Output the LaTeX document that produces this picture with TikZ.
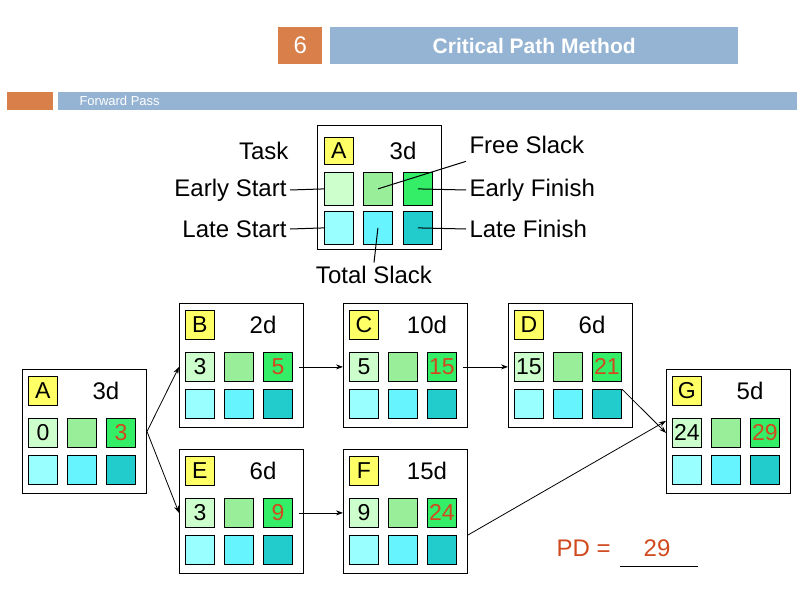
\documentclass[tikz,border=0pt]{standalone}
\usepackage{fontspec}
\setmainfont{Liberation Sans}
\usetikzlibrary{arrows.meta}
\definecolor{c1}{HTML}{CCFFCC}\definecolor{c2}{HTML}{99EE99}\definecolor{c3}{HTML}{33EE66}
\definecolor{d1}{HTML}{99FFFF}\definecolor{d2}{HTML}{66F5FF}\definecolor{d3}{HTML}{22CCCC}
\definecolor{lab}{HTML}{FFFF66}\definecolor{org}{HTML}{D9804A}\definecolor{blu}{HTML}{95B4D3}
\definecolor{red}{HTML}{D04A1E}
\tikzset{
 outer/.style={draw,line width=1pt,fill=white,minimum width=124pt,minimum height=124pt,anchor=north west,inner sep=0},
 cell/.style={draw,line width=0.8pt,minimum width=29pt,minimum height=29pt,anchor=north west,inner sep=0,font=\fontsize{23}{26}\selectfont},
 txt/.style={font=\fontsize{24}{28}\selectfont},
 arr/.style={-{Stealth[length=7pt,width=5pt]},line width=0.8pt},
 ln/.style={line width=1pt}
}
\newcommand\tbox[7]{% name, x, y, letter, dur, es, ef
 \node[outer] (#1) at (#2,#3) {};
 \node[cell,fill=lab] (#1-l) at (#2+6,#3+7) {#4};
 \node[txt] (#1-d) at (#2+84,#3+22) {#5};
 \node[cell,fill=c1] (#1-es) at (#2+6,#3+49) {#6};
 \node[cell,fill=c2] (#1-fs) at (#2+45,#3+49) {};
 \node[cell,fill=c3,text=red] (#1-ef) at (#2+84,#3+49) {#7};
 \node[cell,fill=d1] (#1-ls) at (#2+6,#3+86) {};
 \node[cell,fill=d2] (#1-ts) at (#2+45,#3+86) {};
 \node[cell,fill=d3] (#1-lf) at (#2+84,#3+86) {};
}
\begin{document}
\begin{tikzpicture}[x=1pt,y=-1pt]
\useasboundingbox (0,0) rectangle (805,604);
\fill[white] (0,0) rectangle (805,604);
% header
\node[fill=org,minimum width=44pt,minimum height=37pt,anchor=north west,inner sep=0,text=white,font=\fontsize{24}{28}\selectfont] (num) at (278,27) {6};
\node[fill=blu,minimum width=408pt,minimum height=37pt,anchor=north west,inner sep=0,text=white,font=\bfseries\fontsize{21}{24}\selectfont] (title) at (330,27) {Critical Path Method};
\node[fill=org,minimum width=46pt,minimum height=18pt,anchor=north west,inner sep=0] (bar1) at (7,92) {};
\node[fill=blu,minimum width=739pt,minimum height=18pt,anchor=north west,inner sep=0] (bar2) at (58,92) {};
\node[anchor=west,text=white,font=\fontsize{13}{15}\selectfont] (sub) at (76,101) {Forward Pass};
% legend
\node[outer] (L) at (317,125) {};
\node[cell,fill=lab,minimum height=27pt] (L-l) at (324,137) {A};
\node[txt] (L-d) at (403,151) {3d};
\node[cell,fill=c1,minimum height=33pt] (L-es) at (324,172) {};
\node[cell,fill=c2,minimum height=33pt] (L-fs) at (363,172) {};
\node[cell,fill=c3,minimum height=33pt] (L-ef) at (403,172) {};
\node[cell,fill=d1,minimum height=33pt] (L-ls) at (324,211) {};
\node[cell,fill=d2,minimum height=33pt] (L-ts) at (363,211) {};
\node[cell,fill=d3,minimum height=33pt] (L-lf) at (403,211) {};
\node[txt,anchor=east] (tTask) at (292,151) {Task};
\node[txt,anchor=east] (tES) at (290,190) {Early Start};
\node[txt,anchor=east] (tLS) at (290,229) {Late Start};
\node[txt,anchor=west] (tFS) at (466,145) {Free Slack};
\node[txt,anchor=west] (tEF) at (466,190) {Early Finish};
\node[txt,anchor=west] (tLF) at (466,229) {Late Finish};
\node[txt] (tTS) at (374,275) {Total Slack};
\draw[ln] (tES.east) -- (L-es.west);
\draw[ln] (tLS.east) -- (L-ls.west);
\draw[ln] (tEF.west) -- (L-ef.center);
\draw[ln] (tLF.west) -- (L-lf.center);
\draw[ln] ([yshift=-4pt]tFS.south west) -- (L-fs.center);
\draw[ln] (tTS.north) -- (L-ts.center);
% network
\tbox{A}{22}{369}{A}{3d}{0}{3}
\tbox{B}{179}{303}{B}{2d}{3}{5}
\tbox{C}{343}{303}{C}{10d}{5}{15}
\tbox{D}{508}{303}{D}{6d}{15}{21}
\tbox{E}{179}{449}{E}{6d}{3}{9}
\tbox{F}{343}{449}{F}{15d}{9}{24}
\tbox{G}{666}{369}{G}{5d}{24}{29}
\draw[arr] (A.east) -- (B.west|-B-ef);
\draw[arr] (A.east) -- (E.west|-E-ef);
\draw[arr] (B-ef.east) ++(6,0) -- (C.west|-C-ef);
\draw[arr] (C-ef.east) ++(6,0) -- (D.west|-D-ef);
\draw[arr] (E-ef.east) ++(6,0) -- (F.west|-F-ef);
\draw[arr] (D-lf.north east) -- (G.west|-G-ef);
\draw[arr] (F.east|-F-lf.north) -- ([yshift=12pt]G.west|-G-ef);
% PD
\node[txt,text=red,anchor=west] (pd) at (553,548) {PD =};
\node[txt,text=red] (pdv) at (657,548) {29};
\coordinate (u1) at (620,566); \coordinate (u2) at (698,566);
\draw[ln] (u1) -- (u2);
\end{tikzpicture}
\end{document}
